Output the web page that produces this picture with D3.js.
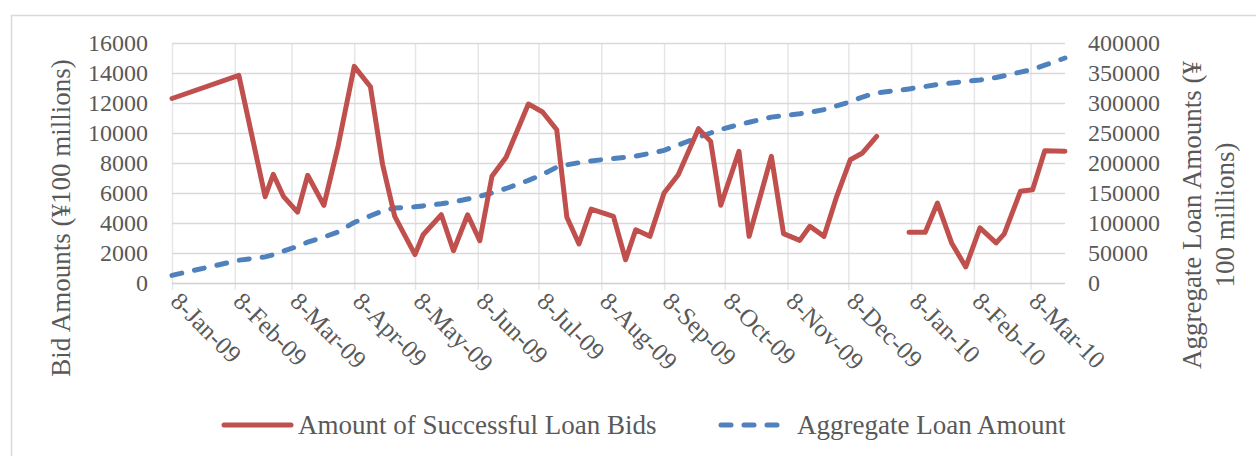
<!DOCTYPE html>
<html>
<head>
<meta charset="utf-8">
<script src="https://cdn.jsdelivr.net/npm/d3@7"></script>
<style>
  body { margin: 0; background: #fff; }
  svg text { font-family: "Liberation Serif", "Times New Roman", serif; fill: #595959; }
</style>
</head>
<body>
<div class="chart"></div>
<script>
// Data
var dates = [
  "2009-01-08", "2009-02-10", "2009-02-23", "2009-02-27", "2009-03-04", "2009-03-11",
  "2009-03-16", "2009-03-24", "2009-03-31", "2009-04-08", "2009-04-16", "2009-04-22",
  "2009-04-28", "2009-05-08", "2009-05-12", "2009-05-21", "2009-05-27", "2009-06-03",
  "2009-06-09", "2009-06-15", "2009-06-22", "2009-07-03", "2009-07-10", "2009-07-17",
  "2009-07-22", "2009-07-28", "2009-08-03", "2009-08-14", "2009-08-20", "2009-08-25",
  "2009-09-01", "2009-09-08", "2009-09-15", "2009-09-25", "2009-10-01", "2009-10-06",
  "2009-10-15", "2009-10-20", "2009-10-31", "2009-11-06", "2009-11-14", "2009-11-19",
  "2009-11-26", "2009-12-02", "2009-12-09", "2009-12-15", "2009-12-22", "2009-12-30",
  "2010-01-07", "2010-01-15", "2010-01-21", "2010-01-28", "2010-02-04", "2010-02-11",
  "2010-02-19", "2010-02-23", "2010-03-03", "2010-03-09", "2010-03-15", "2010-03-25"
];

var bidAmounts = [
  12300, 13840, 5750, 7250, 5780, 4730,
  7180, 5180, 9110, 14440, 13080, 7900,
  4440, 1890, 3220, 4550, 2150, 4550,
  2820, 7110, 8380, 11930, 11400, 10220,
  4380, 2600, 4930, 4440, 1550, 3550,
  3110, 6000, 7220, 10290, 9440, 5180,
  8780, 3110, 8440, 3290, 2840, 3780,
  3110, 5670, 8220, 8670, 9780, null,
  3380, 3380, 5330, 2670, 1070, 3670,
  2670, 3270, 6110, 6220, 8820, 8780
];

var aggregateAmounts = [
  12700, 38000, 43500, 47000, 53000, 61000,
  68000, 76500, 85000, 101000, 112000, 120000,
  125000, 127000, 128500, 132000, 135000, 140000,
  144500, 150000, 157500, 171000, 181000, 193000,
  197000, 200500, 203500, 207500, 209500, 211500,
  216000, 221000, 230000, 243000, 250000, 256000,
  264000, 268000, 276500, 279000, 282000, 284500,
  289000, 295000, 302000, 310000, 317000, 320000,
  323500, 327500, 331000, 333500, 336000, 338500,
  342500, 345500, 351500, 356000, 363000, 375000
];

var tickDates = [
  "2009-01-08", "2009-02-08", "2009-03-08", "2009-04-08", "2009-05-08",
  "2009-06-08", "2009-07-08", "2009-08-08", "2009-09-08", "2009-10-08",
  "2009-11-08", "2009-12-08", "2010-01-08", "2010-02-08", "2010-03-08"
];

var leftTicks = [0, 2000, 4000, 6000, 8000, 10000, 12000, 14000, 16000];
var rightTicks = [0, 50000, 100000, 150000, 200000, 250000, 300000, 350000, 400000];

var seriesNames = ["Amount of Successful Loan Bids", "Aggregate Loan Amount"];

// SVG size and plot area
var svgWidth = 1256;
var svgHeight = 456;
var plot = { left: 172, right: 1065, top: 43, bottom: 283 };

var parseDate = d3.timeParse("%Y-%m-%d");
var formatTick = d3.timeFormat("%-d-%b-%y");

var rows = dates.map(function(d, i) {
  return { date: parseDate(d), bid: bidAmounts[i], agg: aggregateAmounts[i] };
});

var svg = d3.select(".chart")
  .append("svg")
  .attr("width", svgWidth)
  .attr("height", svgHeight);

// chart border
svg.append("rect")
  .attr("x", 11.5)
  .attr("y", 15.5)
  .attr("width", 1260)
  .attr("height", 460)
  .attr("fill", "none")
  .attr("stroke", "#d9d9d9")
  .attr("stroke-width", 1.5);

// scales
var xScale = d3.scaleTime()
  .domain(d3.extent(rows, function(d) { return d.date; }))
  .range([plot.left, plot.right]);

var yLeft = d3.scaleLinear().domain([0, 16000]).range([plot.bottom, plot.top]);
var yRight = d3.scaleLinear().domain([0, 400000]).range([plot.bottom, plot.top]);

var tickValues = tickDates.map(parseDate);

// vertical gridlines (they also make the tick marks under the axis)
svg.append("g")
  .attr("class", "xgrid")
  .attr("transform", "translate(0," + (plot.bottom + 7) + ")")
  .call(d3.axisBottom(xScale).tickValues(tickValues).tickSize(-(plot.bottom + 7 - plot.top)).tickFormat(""))
  .call(function(g) { g.select(".domain").remove(); })
  .selectAll("line")
  .attr("stroke", "#e6e6e6")
  .attr("stroke-width", 1.5);

// horizontal gridlines
svg.append("g")
  .attr("class", "ygrid")
  .attr("transform", "translate(" + plot.left + ",0)")
  .call(d3.axisLeft(yLeft).tickValues(leftTicks).tickSize(-(plot.right - plot.left)).tickFormat(""))
  .call(function(g) { g.select(".domain").remove(); })
  .selectAll("line")
  .attr("stroke", function(d) { return d === 0 ? "#d0d0d0" : "#d9d9d9"; })
  .attr("stroke-width", 1.5);

// left axis labels
var leftAxis = svg.append("g")
  .attr("transform", "translate(" + plot.left + ",0)")
  .call(d3.axisLeft(yLeft).tickValues(leftTicks).tickSize(0).tickPadding(24).tickFormat(d3.format("d")));
leftAxis.select(".domain").remove();
leftAxis.selectAll("text").style("font-size", "24px").attr("fill", "#595959");

// right axis labels
var rightAxis = svg.append("g")
  .attr("transform", "translate(" + plot.right + ",0)")
  .call(d3.axisRight(yRight).tickValues(rightTicks).tickSize(0).tickPadding(23).tickFormat(d3.format("d")));
rightAxis.select(".domain").remove();
rightAxis.selectAll("text").style("font-size", "24px").attr("fill", "#595959");

// x axis labels, rotated
svg.append("g")
  .selectAll("text")
  .data(tickValues)
  .enter()
  .append("text")
  .attr("transform", function(d) {
    return "translate(" + xScale(d) + "," + plot.bottom + ") rotate(45)";
  })
  .attr("x", 12)
  .attr("y", 16)
  .style("font-size", "25px")
  .text(function(d) { return formatTick(d); });

// lines
var bidLine = d3.line()
  .defined(function(d) { return d.bid != null; })
  .x(function(d) { return xScale(d.date); })
  .y(function(d) { return yLeft(d.bid); });

var aggLine = d3.line()
  .x(function(d) { return xScale(d.date); })
  .y(function(d) { return yRight(d.agg); });

svg.append("path")
  .datum(rows)
  .attr("d", aggLine)
  .attr("fill", "none")
  .attr("stroke", "#4F81BD")
  .attr("stroke-width", 5)
  .attr("stroke-linecap", "round")
  .attr("stroke-dasharray", "10,13");

svg.append("path")
  .datum(rows)
  .attr("d", bidLine)
  .attr("fill", "none")
  .attr("stroke", "#C0504D")
  .attr("stroke-width", 5)
  .attr("stroke-linejoin", "round")
  .attr("stroke-linecap", "round");

// axis titles
svg.append("text")
  .attr("transform", "translate(70,218) rotate(-90)")
  .attr("text-anchor", "middle")
  .style("font-size", "27px")
  .text("Bid Amounts (¥100 millions)");

var rightTitle = svg.append("text")
  .attr("transform", "translate(1201,215) rotate(-90)")
  .attr("text-anchor", "middle")
  .style("font-size", "27px");
rightTitle.append("tspan").attr("x", 0).attr("y", 0).text("Aggregate  Loan Amounts (¥");
rightTitle.append("tspan").attr("x", 0).attr("y", 33).text("100 millions)");

// legend
var legend = svg.append("g");
legend.append("line")
  .attr("x1", 224).attr("x2", 291).attr("y1", 425).attr("y2", 425)
  .attr("stroke", "#C0504D").attr("stroke-width", 5).attr("stroke-linecap", "round");
legend.append("text")
  .attr("x", 298).attr("y", 434)
  .style("font-size", "27px")
  .text(seriesNames[0]);

legend.append("line")
  .attr("x1", 721).attr("x2", 781).attr("y1", 425).attr("y2", 425)
  .attr("stroke", "#4F81BD").attr("stroke-width", 5).attr("stroke-linecap", "round")
  .attr("stroke-dasharray", "10,13");
legend.append("text")
  .attr("x", 797).attr("y", 434)
  .style("font-size", "27px")
  .text(seriesNames[1]);
</script>
</body>
</html>
